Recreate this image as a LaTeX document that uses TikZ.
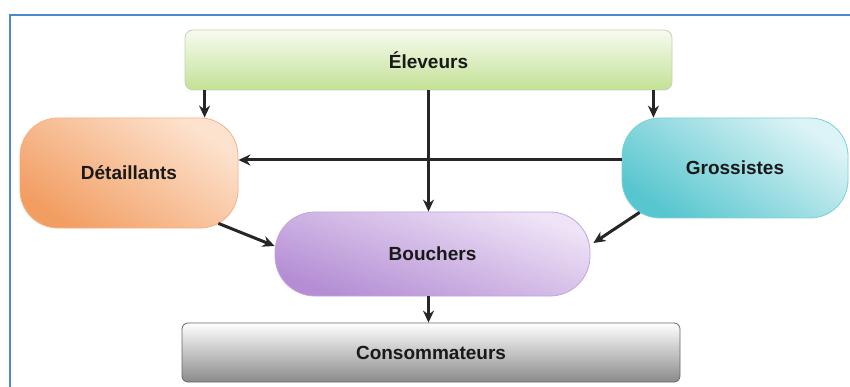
\documentclass[tikz,border=0pt]{standalone}
\usepackage{fontspec}
\setmainfont{Liberation Sans}
\usepackage{tikz}
\usetikzlibrary{
  arrows.meta,   % Stealth 箭头
  calc,          % 坐标计算
  positioning    % 节点相对定位
}

% =========== 颜色 ===========
\definecolor{cadrebleu}{HTML}{4F86CC}
\definecolor{vertclair}{HTML}{F7FBF0}
\definecolor{vertfonce}{HTML}{C3E196}
\definecolor{orclair}{HTML}{FDE3CF}
\definecolor{orfonce}{HTML}{F29E63}
\definecolor{cyclair}{HTML}{DDF4F6}
\definecolor{cyfonce}{HTML}{58C6CF}
\definecolor{viclair}{HTML}{EFE4F7}
\definecolor{vifonce}{HTML}{B48DD4}
\definecolor{grisfonce}{HTML}{8A8A8A}

\tikzset{
  acteur/.style={draw, line width=0.8pt, inner sep=0pt, align=center,
    font=\fontsize{19}{22}\selectfont\bfseries, text=black!90},
  fleche/.style={-{Stealth[length=12pt,width=11pt]}, line width=3pt, black!85},
  cadre/.style={line width=2pt, cadrebleu}
}

\begin{document}
\begin{tikzpicture}[x=1pt, y=-1pt]

  % =========== 画布与外框 ===========
  \useasboundingbox (0,0) rectangle (850,387);
  \draw[cadre] (10,400) -- (10,15) -- (860,15);

  % =========== 节点 ===========
  \node[acteur, draw=vertfonce!80!black!60, top color=vertclair, bottom color=vertfonce,
        minimum width=487pt, minimum height=60pt, rounded corners=8pt]
        (eleveurs) at (428.5,60) {Éleveurs};
  \node[acteur, draw=orfonce!80, top color=orclair, bottom color=orfonce, shading angle=-35,
        minimum width=218pt, minimum height=110pt, rounded corners=38pt]
        (detaillants) at (129,173) {Détaillants};
  \node[acteur, draw=cyfonce!80, top color=cyclair, bottom color=cyfonce, shading angle=-35,
        minimum width=226pt, minimum height=100pt, rounded corners=38pt]
        (grossistes) at (735,168) {Grossistes};
  \node[acteur, draw=vifonce!80, top color=viclair, bottom color=vifonce, shading angle=-20,
        minimum width=315pt, minimum height=84pt, rounded corners=40pt]
        (bouchers) at (432.5,254) {Bouchers};
  \node[acteur, draw=black!60, top color=white, bottom color=grisfonce,
        minimum width=498pt, minimum height=59pt, rounded corners=6pt]
        (consommateurs) at (431,352.5) {Consommateurs};

  % =========== 连线 ===========
  % 起点偏移
  \coordinate (e1) at ([xshift=20pt]eleveurs.south west);
  \coordinate (e2) at ([xshift=-19pt]eleveurs.south east);
  \coordinate (g1) at ([yshift=8pt]grossistes.west);
  \coordinate (d1) at ([xshift=-20pt,yshift=5pt]detaillants.south east);
  \coordinate (g2) at ([xshift=18pt,yshift=6pt]grossistes.south west);
  \coordinate (b1) at ([xshift=-4pt]bouchers.south);

  \draw[fleche] (e1) -- (e1 |- detaillants.north);
  \draw[fleche] (e2) -- (e2 |- grossistes.north);
  \draw[fleche] (eleveurs.south) -- (eleveurs.south |- bouchers.north);
  \draw[fleche] (g1) -- (g1 -| detaillants.east);
  \draw[fleche] (d1) -- ([yshift=8pt]bouchers.west);
  \draw[fleche] (g2) -- ([xshift=3pt,yshift=11pt]bouchers.east);
  \draw[fleche] (b1) -- (b1 |- consommateurs.north);

\end{tikzpicture}
\end{document}
